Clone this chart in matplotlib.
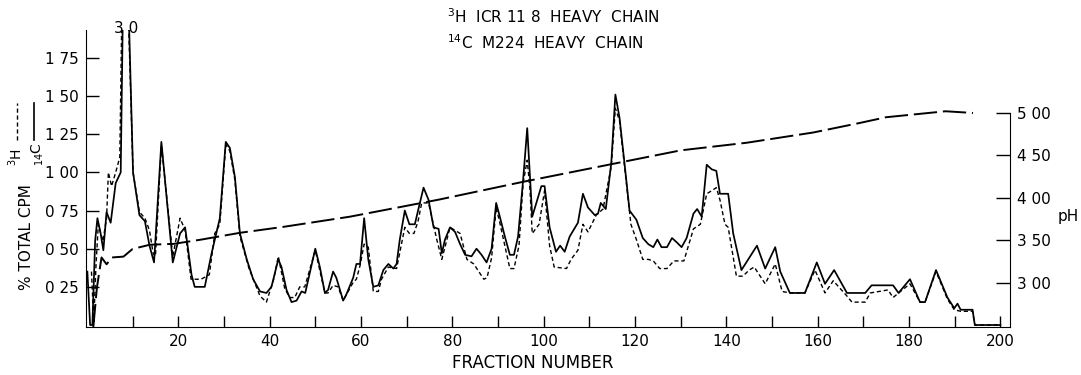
import matplotlib
matplotlib.use("Agg")
import matplotlib.pyplot as plt
from matplotlib.lines import Line2D

# 14C M224 heavy chain (solid)
c14_x = [0.1, 0.7, 1.2, 1.8, 2.3, 3.0, 3.6, 4.3, 5.2, 6.3, 7.4, 8.3, 10.1, 11.5, 12.7, 13.7,
         14.7, 16.3, 18.8, 20.4, 21.5, 22.9, 23.6, 25.8, 27.3, 29.1, 30.4, 31.3, 32.4, 33.5,
         35.0, 36.4, 37.9, 39.3, 40.4, 41.9, 42.6, 43.7, 44.8, 45.9, 47.0, 47.8, 50.0, 51.0,
         52.1, 52.8, 53.9, 54.6, 56.1, 56.8, 58.3, 59.0, 59.8, 60.7, 61.6, 62.7, 63.8, 64.9,
         66.0, 67.1, 67.8, 68.5, 69.6, 70.6, 71.8, 72.5, 73.7, 74.8, 75.9, 77.0, 77.7, 78.4,
         79.5, 80.6, 81.7, 82.8, 84.2, 85.3, 86.4, 87.5, 88.6, 89.6, 90.4, 91.5, 92.6, 93.5,
         94.4, 95.5, 96.4, 97.0, 97.5, 98.4, 99.5, 100.2, 101.3, 102.7, 103.6, 104.6, 105.7,
         107.5, 108.6, 109.7, 111.2, 111.9, 112.5, 113.6, 114.8, 115.7, 116.6, 117.7, 118.8,
         120.3, 121.7, 122.9, 124.0, 124.9, 125.8, 127.0, 128.1, 129.2, 130.2, 131.3, 132.8,
         133.6, 134.6, 135.7, 136.8, 137.8, 138.6, 140.4, 141.5, 143.3, 145.2, 146.7, 148.5,
         150.7, 151.8, 153.9, 157.2, 159.8, 161.6, 163.6, 166.4, 170.4, 171.8, 176.5, 177.7,
         180.2, 182.4, 183.5, 185.9, 188.4, 189.9, 190.6, 191.3, 193.9, 194.4, 200.0]
c14_y = [0.35, 0.0, 0.0, 0.55, 0.70, 0.60, 0.49, 0.74, 0.67, 0.93, 1.00, 3.00, 1.00, 0.72, 0.68, 0.52,
         0.41, 1.20, 0.41, 0.60, 0.64, 0.33, 0.25, 0.25, 0.47, 0.70, 1.20, 1.16, 0.97, 0.60,
         0.43, 0.30, 0.22, 0.21, 0.25, 0.43, 0.38, 0.23, 0.15, 0.16, 0.22, 0.21, 0.50, 0.38,
         0.21, 0.23, 0.35, 0.31, 0.16, 0.20, 0.31, 0.40, 0.40, 0.70, 0.43, 0.25, 0.26, 0.36,
         0.40, 0.37, 0.40, 0.56, 0.75, 0.66, 0.66, 0.75, 0.90, 0.82, 0.64, 0.63, 0.47, 0.56,
         0.64, 0.61, 0.53, 0.46, 0.45, 0.50, 0.46, 0.41, 0.50, 0.80, 0.71, 0.58, 0.46, 0.46,
         0.58, 0.95, 1.29, 0.97, 0.71, 0.80, 0.91, 0.91, 0.64, 0.48, 0.52, 0.48, 0.58,
         0.67, 0.86, 0.77, 0.72, 0.73, 0.80, 0.76, 1.06, 1.51, 1.36, 1.06, 0.75,
         0.69, 0.57, 0.53, 0.51, 0.56, 0.51, 0.51, 0.57, 0.54, 0.51, 0.57, 0.73,
         0.76, 0.71, 1.05, 1.02, 1.01, 0.86, 0.86, 0.60, 0.36, 0.45, 0.52, 0.37,
         0.51, 0.35, 0.21, 0.21, 0.41, 0.27, 0.36, 0.21, 0.21, 0.26, 0.26, 0.21,
         0.30, 0.15, 0.15, 0.36, 0.18, 0.11, 0.14, 0.10, 0.10, 0.0, 0.0]

# 3H ICR 11.8 heavy chain (short dashes)
h3_x = [1.0, 1.5, 2.0, 2.5, 3.5, 4.3, 4.7, 5.4, 6.3, 7.2, 8.1, 10.1, 11.5, 12.7, 13.7, 14.5,
        15.0, 16.3, 18.8, 20.4, 21.5, 22.8, 25.0, 26.8, 28.0, 29.1, 30.4, 31.3, 32.4, 33.5,
        35.5, 37.9, 39.3, 40.9, 41.9, 43.3, 44.4, 45.5, 46.6, 47.7, 50.0, 52.1, 52.8, 53.9,
        55.0, 56.1, 58.3, 59.0, 59.8, 60.7, 61.6, 62.7, 63.8, 64.5, 66.0, 67.8, 69.6, 70.6,
        71.6, 72.5, 73.3, 74.8, 76.6, 77.7, 79.5, 81.7, 83.2, 84.7, 85.8, 86.9, 87.6, 88.6,
        89.6, 90.4, 91.5, 92.6, 93.5, 94.6, 95.5, 96.4, 97.0, 97.5, 99.0, 100.2, 101.3,
        102.3, 105.0, 106.0, 107.5, 108.6, 109.7, 111.5, 113.0, 114.8, 115.7, 116.6, 117.7,
        119.1, 120.3, 121.7, 122.9, 124.0, 125.4, 127.0, 128.5, 130.7, 132.8, 134.3, 135.7,
        136.8, 137.8, 138.6, 139.7, 140.4, 142.2, 143.6, 145.0, 146.1, 148.5, 150.7, 152.2,
        153.9, 157.2, 159.4, 161.6, 163.4, 166.4, 167.5, 170.4, 171.5, 175.4, 176.5, 177.7,
        180.2, 182.4, 183.5, 185.9, 188.4, 189.9, 191.3, 193.9, 194.4, 200.0]
h3_y = [0.35, 0.02, 0.40, 0.66, 0.55, 0.70, 1.00, 0.91, 1.00, 1.10, 3.00, 1.00, 0.74, 0.70, 0.62, 0.47,
        0.45, 1.18, 0.45, 0.70, 0.62, 0.30, 0.30, 0.33, 0.60, 0.66, 1.18, 1.14, 0.95, 0.58,
        0.37, 0.19, 0.15, 0.30, 0.45, 0.24, 0.18, 0.18, 0.25, 0.25, 0.49, 0.21, 0.21, 0.26,
        0.25, 0.16, 0.28, 0.30, 0.39, 0.53, 0.51, 0.22, 0.22, 0.30, 0.38, 0.37, 0.64, 0.60,
        0.60, 0.68, 0.80, 0.80, 0.56, 0.43, 0.64, 0.60, 0.43, 0.40, 0.35, 0.30, 0.31, 0.44,
        0.77, 0.67, 0.52, 0.37, 0.37, 0.52, 0.93, 1.08, 0.89, 0.60, 0.66, 0.88, 0.52,
        0.38, 0.37, 0.43, 0.49, 0.66, 0.61, 0.72, 0.76, 1.04, 1.42, 1.34, 1.04,
        0.66, 0.56, 0.43, 0.43, 0.42, 0.37, 0.37, 0.42, 0.42, 0.63, 0.66, 0.86,
        0.88, 0.90, 0.82, 0.66, 0.64, 0.32, 0.32, 0.36, 0.38, 0.27, 0.40, 0.22,
        0.21, 0.21, 0.36, 0.21, 0.29, 0.19, 0.15, 0.15, 0.21, 0.23, 0.18, 0.21,
        0.27, 0.15, 0.15, 0.35, 0.17, 0.10, 0.09, 0.09, 0.0, 0.0]

# pH gradient (long dashes, right axis)
ph_x = [1.4, 2.2, 3.2, 4.3, 5.5, 8.0, 10.0, 13.8, 19.0, 25.0, 33.5, 43.0, 57.6, 77.0,
        95.5, 116.0, 130.0, 144.5, 159.0, 169.0, 175.0, 188.0, 194.0]
ph_y = [2.48, 2.95, 3.30, 3.22, 3.30, 3.31, 3.40, 3.45, 3.46, 3.51, 3.59, 3.66, 3.78, 3.98,
        4.19, 4.41, 4.56, 4.65, 4.77, 4.88, 4.95, 5.02, 5.00]

left_ticks = [0.25, 0.50, 0.75, 1.00, 1.25, 1.50, 1.75]
left_labels = ["0 25", "0 50", "0 75", "1 00", "1 25", "1 50", "1 75"]
ph_ticks = [3.00, 3.50, 4.00, 4.50, 5.00]
ph_labels = ["3 00", "3 50", "4 00", "4 50", "5 00"]

plt.rcParams["font.family"] = ["DejaVu Sans"]

fig = plt.figure(figsize=(10.81, 3.75), dpi=100)
ax = fig.add_axes([86 / 1081, 1 - 327 / 375, (1010 - 86) / 1081, 297 / 375])
ax2 = ax.twinx()

ax.plot(c14_x, c14_y, color="black", lw=1.25)
ax.plot(h3_x, h3_y, color="black", lw=1.0, linestyle=(0, (3, 2)))
ax2.plot(ph_x, ph_y, color="black", lw=1.4, linestyle=(0, (12, 3)))

ax.set_xlim(-0.2, 202.1)
ax.set_ylim(-0.013, 1.933)
ax2.set_ylim(2.482, 5.976)

for a in (ax, ax2):
    a.spines["top"].set_visible(False)
ax.spines["right"].set_visible(False)
ax2.spines["left"].set_visible(False)
ax2.spines["bottom"].set_visible(False)
ax2.spines["right"].set_bounds(2.482, 5.0)

ax.set_xticks(range(10, 201, 10))
ax.set_xticklabels([str(v) if v % 20 == 0 else "" for v in range(10, 201, 10)])
ax.set_yticks(left_ticks)
ax.set_yticklabels(left_labels)
ax2.set_yticks(ph_ticks)
ax2.set_yticklabels(ph_labels)

ax.tick_params(axis="x", direction="in", length=8, width=1, pad=5, labelsize=11)
ax.tick_params(axis="y", direction="in", length=9, width=1, pad=5, labelsize=11)
ax2.tick_params(axis="y", direction="in", length=10, width=1, pad=5, labelsize=11)

fig.text(533 / 1081, 1 - 363 / 375, "FRACTION NUMBER", ha="center", va="center", fontsize=12)

# off-scale peak value
ax.text(8.5, 1.94, "3 0", ha="center", va="center", fontsize=11)

# titles
fig.text(447 / 1081, 1 - 17 / 375, "$^{3}$H  ICR 11 8  HEAVY  CHAIN", ha="left", va="center", fontsize=11)
fig.text(447 / 1081, 1 - 43 / 375, "$^{14}$C  M224  HEAVY  CHAIN", ha="left", va="center", fontsize=11)

# left axis label with line keys
fig.text(27 / 1081, 1 - 237 / 375, "% TOTAL CPM", rotation=90, ha="center", va="center", fontsize=11)
fig.text(16 / 1081, 1 - 157 / 375, "$^{3}$H", rotation=90, ha="center", va="center", fontsize=10)
fig.text(38 / 1081, 1 - 154 / 375, "$_{14}$C", rotation=90, ha="center", va="center", fontsize=10)
fig.add_artist(Line2D([17 / 1081, 17 / 1081], [1 - 140 / 375, 1 - 103 / 375], color="black",
                      lw=1.0, linestyle=(0, (3, 2)), transform=fig.transFigure))
fig.add_artist(Line2D([34 / 1081, 34 / 1081], [1 - 140 / 375, 1 - 103 / 375], color="black",
                      lw=1.2, transform=fig.transFigure))

fig.text(1068 / 1081, 1 - 217 / 375, "pH", ha="center", va="center", fontsize=11)

fig.savefig("out.png", dpi=100)
